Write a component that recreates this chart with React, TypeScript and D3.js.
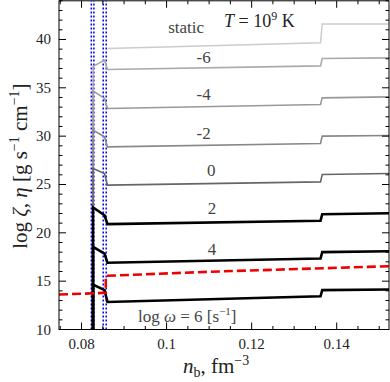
import { useMemo } from 'react'
import * as d3 from 'd3'

// density grid shared by the viscosity curves (fm^-3)
const nbGrid = [0.0827, 0.0827, 0.0854, 0.0861, 0.1362, 0.1366, 0.1523]

// log zeta / log eta values for each log omega
const curveStatic = [NaN, NaN, NaN, 39.07, 39.65, 41.6, 41.6]
const curveM6 = [10, 37.2, 37.86, 36.9, 37.27, 38.03, 38.1]
const curveM4 = [10, 34.68, 33.9, 32.86, 33.27, 33.96, 34.06]
const curveM2 = [10, 30.62, 29.93, 28.89, 29.24, 30.0, 30.07]
const curve0 = [10, 26.65, 26.14, 24.93, 25.27, 26.03, 26.14]
const curve2 = [10, 22.62, 21.82, 20.9, 21.24, 21.93, 22.03]
const curve4 = [10, 18.55, 17.86, 16.9, 17.34, 18.0, 18.1]
const curve6 = [10, 14.65, 14.07, 12.85, 13.44, 14.07, 14.14]

// shear viscosity (red dashed)
const etaNb = [0.0747, 0.0857, 0.0857, 0.11, 0.1523]
const etaVal = [13.62, 13.79, 15.55, 15.97, 16.55]

// phase boundaries (blue dotted)
const boundaryNb = [0.0823, 0.0829, 0.0851, 0.0858]

const curveLabels = ['static', '-6', '-4', '-2', '0', '2', '4']
const xTickLabels = [0.08, 0.1, 0.12, 0.14]
const yTickLabels = [10, 15, 20, 25, 30, 35, 40]

const W = 390
const H = 382
const serif = '"Liberation Serif", "DejaVu Serif", serif'

export default function App() {
  const x = d3.scaleLinear().domain([0.0747, 0.1523]).range([59, 389])
  const y = d3.scaleLinear().domain([10, 44]).range([329.5, 0.8])

  const series = useMemo(
    () => [
      { v: curveStatic, color: '#cccccc', w: 1.5 },
      { v: curveM6, color: '#aaaaaa', w: 1.6 },
      { v: curveM4, color: '#999999', w: 1.6 },
      { v: curveM2, color: '#888888', w: 1.6 },
      { v: curve0, color: '#666666', w: 1.6 },
      { v: curve2, color: '#000000', w: 2.6 },
      { v: curve4, color: '#000000', w: 2.6 },
      { v: curve6, color: '#000000', w: 2.6 },
    ],
    []
  )

  const line = d3
    .line<number>()
    .defined((d) => !isNaN(d))
    .x((_, i) => x(nbGrid[i]))
    .y((d) => y(d))

  const etaLine = d3
    .line<number>()
    .x((_, i) => x(etaNb[i]))
    .y((d) => y(d))

  const [x0, x1] = x.range()
  const [y0, y1] = y.range()

  const xMinor = d3.range(0.075, 0.1525, 0.005)
  const yMinor = d3.range(10, 44.5, 1)

  // label anchors: [n, value]
  const labelPos: [number, number][] = [
    [0.1046, 40.65],
    [0.1087, 37.55],
    [0.1087, 33.7],
    [0.1087, 29.7],
    [0.1105, 25.9],
    [0.1107, 21.9],
    [0.1107, 17.7],
  ]

  return (
    <div style={{ position: 'fixed', left: 0, top: 0 }}>
      <svg width={W} height={H} style={{ display: 'block', background: '#fff' }}>
        <clipPath id="plot">
          <rect x={x0} y={y1} width={x1 - x0} height={y0 - y1} />
        </clipPath>

        <g clipPath="url(#plot)">
          {boundaryNb.map((n, i) => (
            <line
              key={i}
              x1={x(n)}
              x2={x(n)}
              y1={y0}
              y2={y1}
              stroke="#0000ff"
              strokeWidth={1.5}
              strokeDasharray="2,2"
            />
          ))}
          {series.map((s, i) => (
            <path key={i} d={line(s.v) || ''} fill="none" stroke={s.color} strokeWidth={s.w} />
          ))}
          <path
            d={etaLine(etaVal) || ''}
            fill="none"
            stroke="#ee0000"
            strokeWidth={2.6}
            strokeDasharray="9,4"
          />
        </g>

        {/* frame */}
        <rect x={x0} y={y1} width={x1 - x0} height={y0 - y1} fill="none" stroke="#000" strokeWidth={1} />

        {/* ticks on all four sides */}
        <g stroke="#000" strokeWidth={1}>
          {xMinor.map((t, i) => {
            const major = xTickLabels.some((m) => Math.abs(m - t) < 1e-6)
            const len = major ? 7 : 3.5
            return (
              <g key={'x' + i}>
                <line x1={x(t)} x2={x(t)} y1={y0} y2={y0 - len} />
                <line x1={x(t)} x2={x(t)} y1={y1} y2={y1 + len} />
              </g>
            )
          })}
          {yMinor.map((t, i) => {
            const major = t % 5 === 0
            const len = major ? 7 : 3.5
            return (
              <g key={'y' + i}>
                <line x1={x0} x2={x0 + len} y1={y(t)} y2={y(t)} />
                <line x1={x1} x2={x1 - len} y1={y(t)} y2={y(t)} />
              </g>
            )
          })}
        </g>

        <g fontFamily={serif} fontSize={15} fill="#222">
          {xTickLabels.map((t) => (
            <text key={t} x={x(t)} y={349} textAnchor="middle">
              {String(t)}
            </text>
          ))}
          {yTickLabels.map((t) => (
            <text key={t} x={51} y={y(t) + 5} textAnchor="end">
              {t}
            </text>
          ))}
        </g>

        <g fontFamily={serif} fontSize={17} fill="#444">
          {curveLabels.map((l, i) => (
            <text key={l} x={x(labelPos[i][0])} y={y(labelPos[i][1])} textAnchor="middle">
              {l}
            </text>
          ))}
          <text x={224} y={27} fontSize={18} fill="#222">
            <tspan fontStyle="italic">T</tspan> = 10
            <tspan fontSize={12} dy={-7}>9</tspan>
            <tspan dy={7}> K</tspan>
          </text>
          <text x={138} y={322}>
            log <tspan fontStyle="italic">ω</tspan> = 6 [s
            <tspan fontSize={11} dy={-7}>−1</tspan>
            <tspan dy={7}>]</tspan>
          </text>
        </g>

        <text x={183} y={373} fontFamily={serif} fontSize={21} fill="#222">
          <tspan fontStyle="italic">n</tspan>
          <tspan fontSize={14} dy={4}>b</tspan>
          <tspan dy={-4}>, fm</tspan>
          <tspan fontSize={14} dy={-8}>−3</tspan>
        </text>

        <text
          transform={`translate(27,${(y0 + y1) / 2 + 1}) rotate(-90)`}
          textAnchor="middle"
          fontFamily={serif}
          fontSize={21}
          fill="#222"
        >
          log <tspan fontStyle="italic">ζ</tspan>, <tspan fontStyle="italic">η</tspan> [g s
          <tspan fontSize={14} dy={-8}>−1</tspan>
          <tspan dy={8}> cm</tspan>
          <tspan fontSize={14} dy={-8}>−1</tspan>
          <tspan dy={8}>]</tspan>
        </text>
      </svg>
    </div>
  )
}
